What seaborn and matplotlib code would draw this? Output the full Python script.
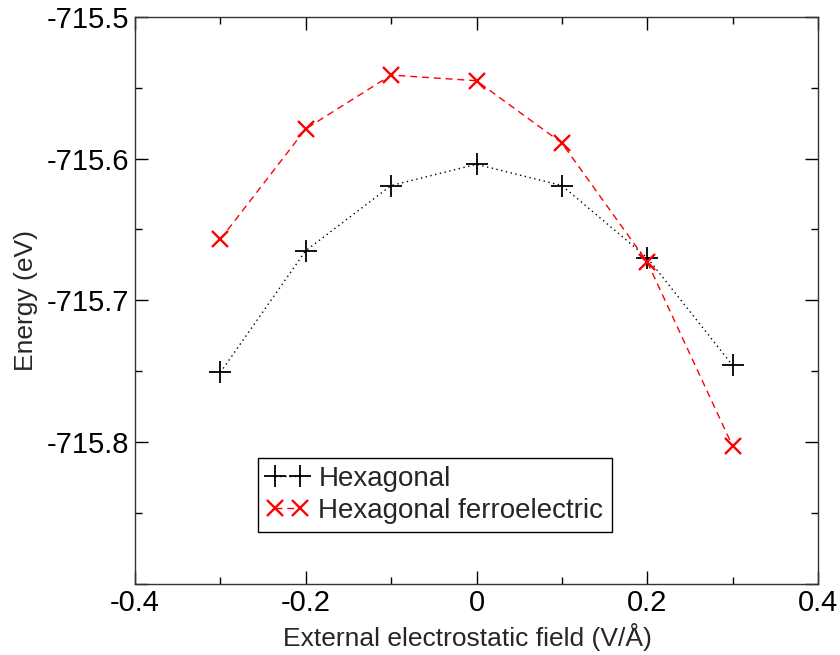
import matplotlib
matplotlib.use("Agg")
import matplotlib.pyplot as plt
import seaborn as sns
import pandas as pd
from matplotlib.ticker import MultipleLocator, FuncFormatter

field = [-0.3, -0.2, -0.1, 0.0, 0.1, 0.2, 0.3]
hexagonal = [-715.751, -715.665, -715.619, -715.604, -715.619, -715.670, -715.746]
hex_ferro = [-715.657, -715.579, -715.541, -715.545, -715.589, -715.673, -715.803]
series_names = ["Hexagonal", "Hexagonal ferroelectric"]

sns.set_style("ticks")
plt.rcParams['font.family'] = ['Liberation Sans', 'DejaVu Sans']

fig = plt.figure(figsize=(8.4, 6.55), dpi=100)
ax = fig.add_axes([135/840, (655-583.5)/655, (818-135)/840, (583.5-17)/655])

df1 = pd.DataFrame({"x": field, "y": hexagonal})
df2 = pd.DataFrame({"x": field, "y": hex_ferro})

sns.lineplot(data=df1, x="x", y="y", ax=ax, color="black", linewidth=1.0,
             marker="+", markersize=16, markeredgewidth=1.3,
             markeredgecolor="black", linestyle=(0, (1, 2.5)))
l1 = ax.lines[-1]
l1.set_label(series_names[0])

sns.lineplot(data=df2, x="x", y="y", ax=ax, color="red", linewidth=1.0,
             marker="x", markersize=11.5, markeredgewidth=1.7,
             markeredgecolor="red", linestyle=(0, (5, 3.5)))
l2 = ax.lines[-1]
l2.set_label(series_names[1])

ax.set_xlim(-0.4, 0.4)
ax.set_ylim(-715.9, -715.5)
ax.xaxis.set_major_locator(MultipleLocator(0.2))
ax.xaxis.set_minor_locator(MultipleLocator(0.1))
ax.yaxis.set_major_locator(MultipleLocator(0.1))
ax.yaxis.set_minor_locator(MultipleLocator(0.05))

ax.xaxis.set_major_formatter(FuncFormatter(lambda v, p: "%g" % round(v, 6)))
ax.yaxis.set_major_formatter(FuncFormatter(lambda v, p: "" if v < -715.85 else "%.1f" % v))

ax.tick_params(which="both", direction="in", top=True, right=True,
               labelsize=21, colors="black", width=1.0)
ax.tick_params(which="major", length=9.4)
ax.tick_params(axis="x", which="major", pad=4)
ax.tick_params(axis="y", which="major", pad=4)
ax.tick_params(which="minor", length=4.7)
for sp in ax.spines.values():
    sp.set_color("#333333")
    sp.set_linewidth(1.0)

ax.set_xlabel("External electrostatic field (V/Å)", fontsize=19, labelpad=4)
ax.xaxis.label.set_x((467.5 - 135) / 683)
ax.set_ylabel("Energy (eV)", fontsize=19)
ax.yaxis.set_label_coords((38 - 135) / 683, 0.5)

leg = ax.legend(handles=[l1, l2], labels=series_names,
                loc="lower left", bbox_to_anchor=((258-135)/683, (583.5-532)/566.4),
                borderaxespad=0, fontsize=20, numpoints=2, handlelength=1.5,
                handletextpad=0.37, fancybox=False, framealpha=1,
                edgecolor="black", borderpad=0.3, labelspacing=0.2)
leg.get_frame().set_linewidth(1.0)

fig.savefig("out.png", dpi=100)
